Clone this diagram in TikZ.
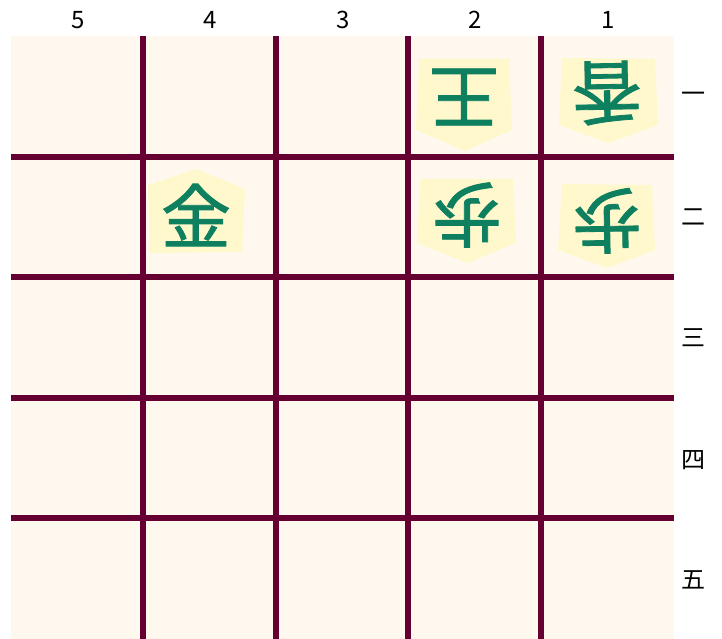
\documentclass[tikz,border=0pt]{standalone}
\usepackage{fontspec}
\setmainfont{Noto Sans CJK JP}
\newfontfamily\cjk{Noto Sans CJK JP}
\newfontfamily\cjkpiece[FakeBold=1.2]{Noto Sans CJK JP}
\definecolor{boardfill}{RGB}{255,248,238}
\definecolor{gridline}{RGB}{102,0,51}
\definecolor{piecefill}{RGB}{255,248,204}
\definecolor{piecetext}{RGB}{14,128,96}
\tikzset{
  gridl/.style={draw=gridline, line width=5.5pt},
  piece/.style={fill=piecefill, draw=none},
  kanji/.style={text=piecetext, font=\cjkpiece\fontsize{70}{70}\selectfont, inner sep=0pt},
  label/.style={text=black, font=\cjk\fontsize{24}{24}\selectfont, inner sep=0pt},
}
\begin{document}
\begin{tikzpicture}[x=1pt,y=-1pt]
\useasboundingbox (0,0) rectangle (722,639);
\fill[boardfill] (11,36) rectangle (674,639);
% grid
\foreach \x in {143,276,408,541} \draw[gridl] (\x,36) -- (\x,639);
\foreach \y in {157,277,398,518} \draw[gridl] (11,\y) -- (674,\y);
% column labels
\node[label] (c5) at (78,20) {5};
\node[label] (c4) at (210,20) {4};
\node[label] (c3) at (343,20) {3};
\node[label] (c2) at (475,20) {2};
\node[label] (c1) at (608,20) {1};
% row labels
\node[label] (r1) at (693,97) {一};
\node[label] (r2) at (693,217) {二};
\node[label] (r3) at (693,338) {三};
\node[label] (r4) at (693,460) {四};
\node[label] (r5) at (693,580) {五};
% pieces
\fill[piece] (419,59) -- (509,59) -- (512,130) -- (465,151) -- (416,130) -- cycle;
\node[kanji, rotate=180] (ou) at (464,97) {王};
\fill[piece] (562,58) -- (655,59) -- (658,125) -- (608,143) -- (559,125) -- cycle;
\node[kanji, rotate=181] (kyo) at (607,93) {香};
\fill[piece] (420,179) -- (513,179) -- (516,243) -- (467,263) -- (417,243) -- cycle;
\node[kanji, rotate=180] (fu2) at (467,215) {歩};
\fill[piece] (562,184) -- (652,185) -- (655,250) -- (607,268) -- (558,250) -- cycle;
\node[kanji, rotate=181] (fu1) at (607,221) {歩};
\fill[piece] (196,169) -- (245,189) -- (242,252) -- (150,253) -- (148,185) -- cycle;
\node[kanji] (kin) at (196,215) {金};
\end{tikzpicture}
\end{document}
